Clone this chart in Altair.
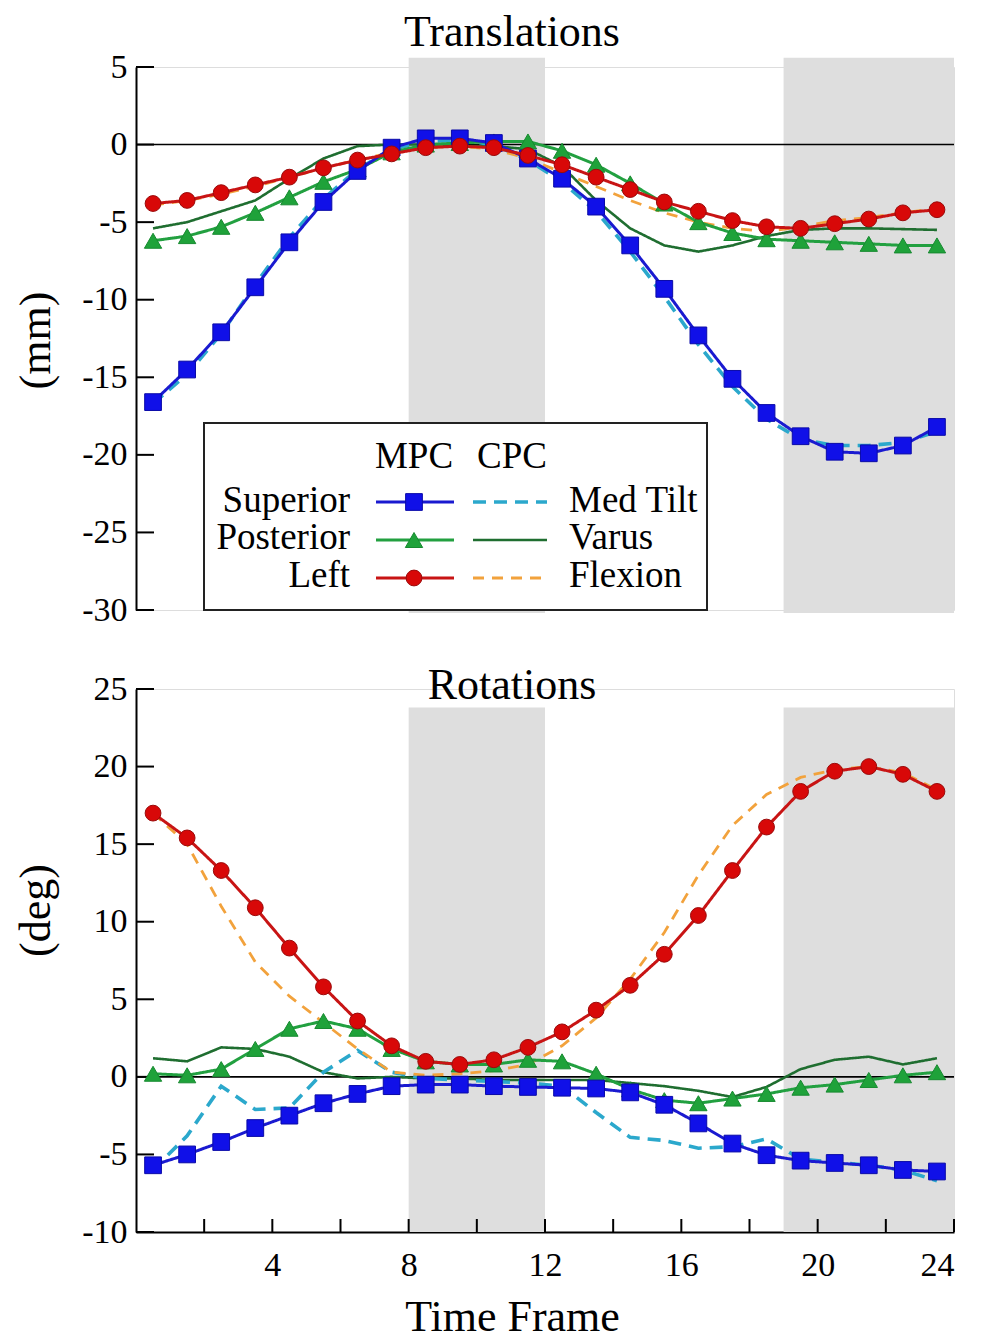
import altair as alt
import pandas as pd

FONT = "Liberation Serif"

# ---------------- data ----------------
frames = [0.5, 1.5, 2.5, 3.5, 4.5, 5.5, 6.5, 7.5, 8.5, 9.5, 10.5, 11.5,
          12.5, 13.5, 14.5, 15.5, 16.5, 17.5, 18.5, 19.5, 20.5, 21.5, 22.5, 23.5]

# Translations (mm)
trans_superior = [-16.6, -14.5, -12.1, -9.2, -6.3, -3.7, -1.7, -0.2, 0.4, 0.4, 0.1, -0.9,
                  -2.2, -4.0, -6.5, -9.3, -12.3, -15.1, -17.3, -18.8, -19.8, -19.9, -19.4, -18.2]
trans_medtilt = [-16.7, -14.8, -12.2, -9.0, -6.0, -3.5, -1.6, -0.3, 0.2, 0.3, 0.0, -1.0,
                 -2.4, -4.3, -6.9, -9.8, -12.9, -15.6, -17.7, -19.0, -19.4, -19.4, -19.2, -18.5]
trans_posterior = [-6.2, -5.9, -5.3, -4.4, -3.4, -2.4, -1.6, -0.5, 0.0, 0.1, 0.2, 0.2,
                   -0.4, -1.3, -2.5, -3.8, -5.0, -5.7, -6.1, -6.2, -6.3, -6.4, -6.5, -6.5]
trans_varus = [-5.4, -5.0, -4.3, -3.6, -2.2, -0.9, -0.1, 0.0, 0.0, -0.1, -0.1, -0.3,
               -1.4, -3.6, -5.4, -6.5, -6.9, -6.5, -5.9, -5.5, -5.4, -5.4, -5.45, -5.5]
trans_left = [-3.8, -3.6, -3.1, -2.6, -2.1, -1.5, -1.0, -0.6, -0.2, -0.1, -0.2, -0.7,
              -1.3, -2.1, -2.9, -3.7, -4.3, -4.9, -5.3, -5.4, -5.1, -4.8, -4.4, -4.2]
trans_flexion = [-3.9, -3.6, -3.2, -2.7, -2.1, -1.5, -1.0, -0.5, -0.2, -0.1, -0.3, -0.9,
                 -1.8, -2.7, -3.6, -4.4, -5.0, -5.4, -5.6, -5.3, -4.9, -4.7, -4.4, -4.1]

# Rotations (deg)
rot_superior = [-5.7, -5.0, -4.2, -3.3, -2.5, -1.7, -1.1, -0.6, -0.5, -0.5, -0.6, -0.65,
                -0.7, -0.75, -1.0, -1.8, -3.0, -4.3, -5.05, -5.4, -5.55, -5.7, -6.0, -6.1]
rot_medtilt = [-6.0, -3.8, -0.6, -2.1, -2.0, 0.3, 1.7, 0.3, -0.1, -0.2, -0.3, -0.4,
               -0.6, -2.3, -3.9, -4.1, -4.6, -4.5, -4.0, -5.3, -5.5, -5.7, -6.0, -6.7]
rot_posterior = [0.2, 0.1, 0.5, 1.8, 3.1, 3.6, 3.1, 1.8, 1.0, 0.8, 0.8, 1.1,
                 1.0, 0.2, -0.8, -1.5, -1.7, -1.4, -1.1, -0.7, -0.5, -0.2, 0.1, 0.3]
rot_varus = [1.2, 1.0, 1.9, 1.8, 1.3, 0.3, -0.1, 0.0, -0.1, -0.1, -0.2, -0.2,
             -0.2, -0.2, -0.4, -0.6, -0.9, -1.3, -0.65, 0.5, 1.1, 1.3, 0.8, 1.2]
rot_left = [17.0, 15.4, 13.3, 10.9, 8.3, 5.8, 3.6, 2.0, 1.0, 0.8, 1.1, 1.9,
            2.9, 4.3, 5.9, 7.9, 10.4, 13.3, 16.1, 18.4, 19.7, 20.0, 19.5, 18.4]
rot_flexion = [17.0, 15.0, 11.0, 7.4, 5.2, 3.5, 1.8, 0.3, 0.1, 0.2, 0.4, 0.8,
               2.0, 3.8, 6.3, 9.3, 13.0, 16.2, 18.2, 19.3, 19.8, 20.0, 19.6, 18.5]

shade_start = [8, 19]
shade_end = [12, 24]
trans_shade = [-30.2, 5.6]
rot_shade = [-10, 23.8]

trans_ticks = [-30, -25, -20, -15, -10, -5, 0, 5]
rot_ticks = [-10, -5, 0, 5, 10, 15, 20, 25]
x_label_values = [4, 8, 12, 16, 20, 24]
x_tick_values = [2, 4, 6, 8, 10, 12, 14, 16, 18, 20, 22, 24]

mpc_names = ["Superior", "Posterior", "Left"]
cpc_names = ["Med Tilt", "Varus", "Flexion"]

# ---------------- styles ----------------
W, H = 818, 543
STY = {
    "Superior": dict(color="#1a1ad0", width=3, dash=[1, 0], shape="square",
                     fill="#1010e8", stroke="#0a0aa8", size=280),
    "Posterior": dict(color="#22a040", width=3, dash=[1, 0], shape="triangle-up",
                      fill="#1fa23a", stroke="#178a30", size=300),
    "Left": dict(color="#c81414", width=3, dash=[1, 0], shape="circle",
                 fill="#d80808", stroke="#9a0a0a", size=250),
    "Med Tilt": dict(color="#2ba8cc", width=3.6, dash=[13, 8]),
    "Varus": dict(color="#1f6e30", width=2.6, dash=[1, 0]),
    "Flexion": dict(color="#f2a23c", width=2.8, dash=[11, 8]),
}


def series_df(vals):
    return pd.DataFrame({"frame": frames, "value": vals})


def build_panel(series, ydomain, yticks, shade_y, ytitle, ytitle_y, title_text,
                title_offset, show_x, legend):
    xs = alt.Scale(domain=[0, 24], nice=False, zero=False)
    ys = alt.Scale(domain=ydomain, nice=False, zero=False)
    if show_x:
        x_axis = alt.Axis(values=x_label_values, ticks=False, grid=False,
                          domainColor="black", domainWidth=2,
                          labelFont=FONT, labelFontSize=34, labelColor="black",
                          labelPadding=16, labelExpr="'' + datum.value",
                          title="Time Frame", titleFont=FONT, titleFontSize=44,
                          titleFontWeight="normal", titleColor="black",
                          titleX=376, titleY=98, titleAlign="center",
                          titleBaseline="alphabetic")
    else:
        x_axis = None
    y_axis = alt.Axis(values=yticks, ticks=False, grid=False,
                      domainColor="black", domainWidth=2,
                      labelFont=FONT, labelFontSize=34, labelColor="black",
                      labelPadding=9, labelExpr="'' + datum.value",
                      title=ytitle, titleFont=FONT, titleFontSize=44,
                      titleFontWeight="normal", titleColor="black",
                      titleAngle=270, titleX=-100, titleY=ytitle_y,
                      titleAlign="center", titleBaseline="middle")
    X = alt.X("frame:Q", scale=xs, axis=x_axis)
    Y = alt.Y("value:Q", scale=ys, axis=y_axis)

    layers = []
    shade = pd.DataFrame({"frame": shade_start, "frame_end": shade_end,
                          "value": [shade_y[0]] * 2, "value_end": [shade_y[1]] * 2})
    layers.append(alt.Chart(shade).mark_rect(color="#dedede", opacity=1).encode(
        x=X, x2="frame_end:Q", y=Y, y2="value_end:Q"))
    layers.append(alt.Chart(pd.DataFrame({"value": [0]})).mark_rule(
        color="black", strokeWidth=1.6).encode(y=Y))
    layers.append(alt.Chart(pd.DataFrame({"value": yticks})).mark_rule(
        color="black", strokeWidth=2).encode(y=Y, x=alt.value(0), x2=alt.value(18)))
    if show_x:
        layers.append(alt.Chart(pd.DataFrame({"frame": x_tick_values})).mark_rule(
            color="black", strokeWidth=2).encode(x=X, y=alt.value(H), y2=alt.value(H - 13)))

    order = ["Varus", "Med Tilt", "Flexion", "Posterior", "Superior", "Left"]
    for name in order:
        s = STY[name]
        df = series_df(series[name])
        layers.append(alt.Chart(df).mark_line(
            color=s["color"], strokeWidth=s["width"], strokeDash=s["dash"]).encode(x=X, y=Y))
        if "shape" in s:
            layers.append(alt.Chart(df).mark_point(
                shape=s["shape"], filled=True, fill=s["fill"], stroke=s["stroke"],
                strokeWidth=1, size=s["size"], opacity=1).encode(x=X, y=Y))

    if legend:
        # legend box and contents (pixel positions inside the plot area)
        layers.append(alt.Chart(pd.DataFrame({"k": [0]})).mark_rect(
            fill="white", stroke="#222222", strokeWidth=2).encode(
            x=alt.value(68), x2=alt.value(571), y=alt.value(356), y2=alt.value(543)))
        txt = dict(font=FONT, fontSize=37, color="black", baseline="alphabetic")
        layers.append(alt.Chart(pd.DataFrame({"t": ["MPC"]})).mark_text(
            align="center", **txt).encode(text="t:N", x=alt.value(278), y=alt.value(401)))
        layers.append(alt.Chart(pd.DataFrame({"t": ["CPC"]})).mark_text(
            align="center", **txt).encode(text="t:N", x=alt.value(376), y=alt.value(401)))
        row_base = [445, 482, 520]
        row_mid = [435, 473, 511]
        for i in range(3):
            m = mpc_names[i]
            c = cpc_names[i]
            sm = STY[m]
            sc = STY[c]
            layers.append(alt.Chart(pd.DataFrame({"t": [m]})).mark_text(
                align="right", **txt).encode(text="t:N", x=alt.value(214), y=alt.value(row_base[i])))
            layers.append(alt.Chart(pd.DataFrame({"t": [c]})).mark_text(
                align="left", **txt).encode(text="t:N", x=alt.value(433), y=alt.value(row_base[i])))
            layers.append(alt.Chart(pd.DataFrame({"k": [0]})).mark_rule(
                color=sm["color"], strokeWidth=sm["width"]).encode(
                x=alt.value(240), x2=alt.value(318), y=alt.value(row_mid[i])))
            layers.append(alt.Chart(pd.DataFrame({"k": [0]})).mark_point(
                shape=sm["shape"], filled=True, fill=sm["fill"], stroke=sm["stroke"],
                strokeWidth=1, size=sm["size"], opacity=1).encode(
                x=alt.value(278), y=alt.value(row_mid[i])))
            layers.append(alt.Chart(pd.DataFrame({"k": [0]})).mark_rule(
                color=sc["color"], strokeWidth=sc["width"], strokeDash=sc["dash"]).encode(
                x=alt.value(337), x2=alt.value(411), y=alt.value(row_mid[i])))

    return alt.layer(*layers).properties(
        width=W, height=H,
        title=alt.TitleParams(title_text, font=FONT, fontSize=44, fontWeight="normal",
                              color="black", anchor="middle", frame="group",
                              baseline="alphabetic", offset=title_offset, dx=-33))


top = build_panel(
    {"Superior": trans_superior, "Med Tilt": trans_medtilt, "Posterior": trans_posterior,
     "Varus": trans_varus, "Left": trans_left, "Flexion": trans_flexion},
    [-30, 5], trans_ticks, trans_shade, "(mm)", 273, "Translations", -40, False, True)

bottom = build_panel(
    {"Superior": rot_superior, "Med Tilt": rot_medtilt, "Posterior": rot_posterior,
     "Varus": rot_varus, "Left": rot_left, "Flexion": rot_flexion},
    [-10, 25], rot_ticks, rot_shade, "(deg)", 221, "Rotations", -71, True, False)

chart = alt.vconcat(top, bottom, spacing=79, bounds="flush").properties(
    padding={"left": 5, "top": 2, "right": 5, "bottom": 5}
).configure_view(stroke=None).configure(background="white")

chart.save("out.html", embed_options={"renderer": "svg", "actions": False})
